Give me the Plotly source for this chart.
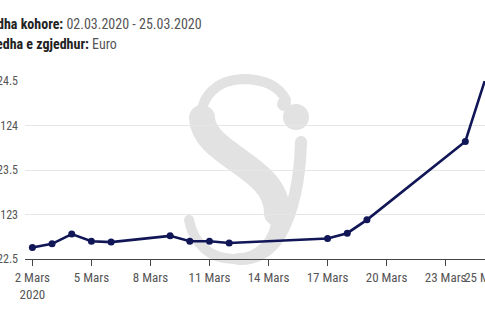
import base64
import plotly.graph_objects as go

# EUR exchange rate, March 2020
dates = ["2020-03-02", "2020-03-03", "2020-03-04", "2020-03-05", "2020-03-06",
         "2020-03-09", "2020-03-10", "2020-03-11", "2020-03-12", "2020-03-17",
         "2020-03-18", "2020-03-19", "2020-03-24", "2020-03-25"]
rates = [122.63, 122.67, 122.78, 122.70, 122.69,
         122.76, 122.70, 122.70, 122.68, 122.73,
         122.79, 122.94, 123.82, 124.51]

x_tick_vals = ["2020-03-02", "2020-03-05", "2020-03-08", "2020-03-11", "2020-03-14",
               "2020-03-17", "2020-03-20", "2020-03-23", "2020-03-25"]
x_tick_text = ["2 Mars<br>2020", "5 Mars", "8 Mars", "11 Mars", "14 Mars",
               "17 Mars", "20 Mars", "23 Mars", "25 Mars"]
y_tick_vals = [122.5, 123, 123.5, 124, 124.5]
y_tick_text = ["122.5", "123", "123.5", "124", "124.5"]

FONT = "'Roboto Condensed', 'Liberation Sans Narrow', sans-serif"
NAVY = "#101656"
MARK_GREY = "#e2e2e2"

# watermark logo drawn as vector strokes
logo_svg = f"""<svg xmlns='http://www.w3.org/2000/svg' width='140' height='200' viewBox='0 0 140 200'>
<g fill='none' stroke='{MARK_GREY}' stroke-linecap='round'>
<path d='M 106 30 C 98 14, 80 9, 62 9 C 38 10, 20 26, 22 48' stroke-width='10'/>
<path d='M 22 48 C 24 86, 98 96, 97 143' stroke-width='26'/>
<path d='M 97 143 C 97 173, 77 189, 54 189 C 31 189, 14 175, 9 150' stroke-width='10'/>
<path d='M 121 72 C 120 110, 114 140, 100 165 C 90 182, 74 190, 58 189' stroke-width='12'/>
</g>
<circle cx='104' cy='34' r='7' fill='{MARK_GREY}'/>
<circle cx='116' cy='47' r='13' fill='{MARK_GREY}'/>
</svg>"""
logo_uri = "data:image/svg+xml;base64," + base64.b64encode(logo_svg.encode()).decode()

fig = go.Figure()
fig.add_trace(go.Scatter(
    x=dates, y=rates, mode="lines+markers",
    line=dict(color=NAVY, width=2.6),
    marker=dict(color=NAVY, size=7),
    cliponaxis=False, hoverinfo="x+y", showlegend=False,
))

plot_w, plot_h, plot_left, plot_top = 460.0, 178.0, 25.0, 81.0


def px_x(px):
    return (px - plot_left) / plot_w


def px_y(py):
    return 1 + (plot_top - py) / plot_h


fig.add_layout_image(dict(
    source=logo_uri, xref="paper", yref="paper",
    x=px_x(180), y=px_y(70), sizex=140 / plot_w, sizey=200 / plot_h,
    xanchor="left", yanchor="top", sizing="stretch", layer="below",
))

fig.add_annotation(
    xref="paper", yref="paper", x=px_x(-5), y=px_y(24),
    xanchor="left", yanchor="middle", showarrow=False, align="left",
    text="<b>dha kohore:</b> <span style='color:#555'>02.03.2020 - 25.03.2020</span>",
    font=dict(family=FONT, size=14, color="#222"),
)
fig.add_annotation(
    xref="paper", yref="paper", x=px_x(-6), y=px_y(44),
    xanchor="left", yanchor="middle", showarrow=False, align="left",
    text="<b>edha e zgjedhur:</b> <span style='color:#555'>Euro</span>",
    font=dict(family=FONT, size=14, color="#222"),
)

fig.update_layout(
    width=485, height=325, autosize=False,
    margin=dict(l=25, r=0, t=81, b=66, pad=0),
    paper_bgcolor="white", plot_bgcolor="rgba(0,0,0,0)",
    font=dict(family=FONT, size=13, color="#555"),
    xaxis=dict(
        type="date", range=["2020-03-01 15:00", "2020-03-25 00:00"],
        tickvals=x_tick_vals, ticktext=x_tick_text, automargin=False,
        ticklabeloverflow="allow", tickangle=0,
        showgrid=False, showline=True, linecolor="#444", linewidth=1,
        ticks="outside", ticklen=6, tickcolor="#444", tickwidth=1,
        tickfont=dict(family=FONT, size=13, color="#555"),
        zeroline=False, fixedrange=True,
    ),
    yaxis=dict(
        range=[122.5, 124.5], tickvals=y_tick_vals, ticktext=y_tick_text,
        automargin=False, ticklabeloverflow="allow",
        showgrid=True, gridcolor="#e6e6e6", gridwidth=1,
        showline=False, zeroline=False, ticks="", ticklabelstandoff=6,
        tickfont=dict(family=FONT, size=12, color="#555"), fixedrange=True,
    ),
)

fig.write_html("out.html", config={"displayModeBar": False})
